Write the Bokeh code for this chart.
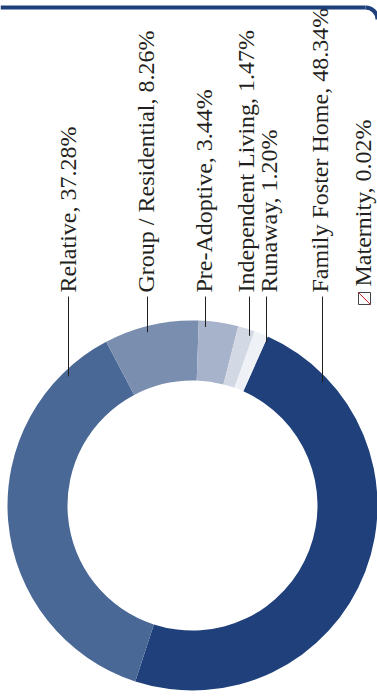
import math
from bokeh.plotting import figure
from bokeh.models import Range1d, ColumnDataSource
from bokeh.core.properties import value
from bokeh.embed import file_html
from bokeh.resources import INLINE

# ---- data ----
categories = ["Family Foster Home", "Relative", "Group / Residential", "Pre-Adoptive",
              "Independent Living", "Runaway", "Maternity"]
percents = [48.34, 37.28, 8.26, 3.44, 1.47, 1.20, 0.02]
colors = ["#1f407b", "#4a6895", "#7a8eaf", "#a6b3cb", "#d2d9e4", "#eef1f5", "#ffffff"]
labels = [f"{c}, {v:.2f}%" for c, v in zip(categories, percents)]

# ---- layout (image pixel coordinates, y measured from top) ----
W, H = 377, 700
CX, CY = 192, 505
R_IN, R_OUT = 125, 185
START_CW = 24.0  # degrees clockwise from 12 o'clock where first slice starts

p = figure(width=W, height=H, x_range=Range1d(0, W), y_range=Range1d(0, H),
           output_backend="svg", toolbar_location=None, min_border=0)
p.axis.visible = False
p.grid.visible = False
p.outline_line_color = None
p.background_fill_color = "white"
p.border_fill_color = "white"

def fy(img_y):
    return H - img_y

# wedges
total = sum(percents)
starts, ends = [], []
acc = START_CW
for v in percents:
    a0 = acc
    a1 = acc + v / total * 360.0
    acc = a1
    # convert clockwise-from-top to math angles (anticlock)
    starts.append(math.radians(90 - a1))
    ends.append(math.radians(90 - a0))

src = ColumnDataSource(dict(start=starts, end=ends, color=colors))
p.annular_wedge(x=CX, y=fy(CY), inner_radius=R_IN, outer_radius=R_OUT,
                start_angle="start", end_angle="end", direction="anticlock",
                fill_color="color", line_color=None, source=src)

# labels: text centre x (image px), leader x, text start y
text_cx = [321, 68.5, 147, 205, 246.5, 270, 364]
leader_x = [322, 68, 147, 205, 249, 266, None]
text_y0 = [292, 292, 292, 292, 292, 292, 286]
FS = 24
x_off = -1.5

for lab, tx, lx, ty in zip(labels, text_cx, leader_x, text_y0):
    p.text(x=[tx + x_off], y=[fy(ty)], text=[lab], angle=math.pi / 2,
           text_align="left", text_baseline="alphabetic",
           text_font=value("Liberation Serif"), text_font_size=f"{FS}px",
           text_color="#231f20")
    if lx is not None:
        r = 179
        dx = lx - CX
        y_end = CY - math.sqrt(max(r * r - dx * dx, 0))
        p.segment(x0=[lx], y0=[fy(296)], x1=[lx], y1=[fy(y_end)],
                  line_color="#231f20", line_width=1)

# maternity marker (tiny slice legend)
mx, my, ms = 364, 298, 12
p.rect(x=[mx], y=[fy(my)], width=ms, height=ms, fill_color="white",
       line_color="#444444", line_width=1)
p.segment(x0=[mx - ms / 2], y0=[fy(my - ms / 2)], x1=[mx + ms / 2], y1=[fy(my + ms / 2)],
          line_color="#e0202a", line_width=1)

# card border at top with rounded corner
p.segment(x0=[0], y0=[fy(7)], x1=[365], y1=[fy(7)], line_color="#1f407b", line_width=4)
p.arc(x=[365], y=[fy(19)], radius=12, start_angle=0, end_angle=math.pi / 2,
      direction="anticlock", line_color="#1f407b", line_width=4)

open("out.html", "w").write(file_html(p, INLINE))
